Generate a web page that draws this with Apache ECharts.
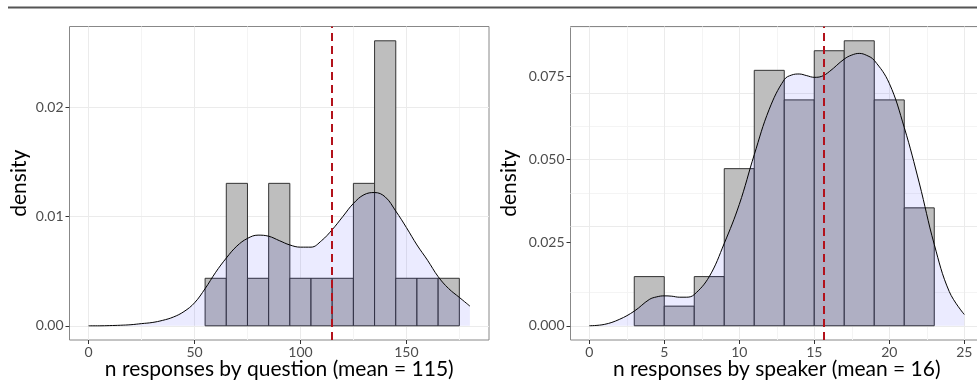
<!DOCTYPE html>
<html>
<head>
<meta charset="utf-8">
<script src="https://cdn.jsdelivr.net/npm/echarts@6/dist/echarts.min.js"></script>
<style>
  html, body { margin: 0; padding: 0; background: #fff; }
  #chart { width: 977px; height: 382px; }
</style>
</head>
<body>
<div id="chart"></div>
<script>
// left panel: responses per question
const qBinStart = [55, 65, 75, 85, 95, 105, 115, 125, 135, 145, 155, 165];
const qBinDensity = [0.00435, 0.01304, 0.00435, 0.01304, 0.00435, 0.00435, 0.00435, 0.01304, 0.02609, 0.00435, 0.00435, 0.00435];
const qDensX = [0, 5, 10, 15, 20, 25, 30, 35, 40, 45, 50, 55, 60, 65, 70, 75, 80, 85, 90, 95, 100, 105, 110, 115, 120, 125, 130, 135, 140, 145, 150, 155, 160, 165, 170, 175, 180];
const qDensY = [0, 0, 0.00002, 0.00005, 0.0001, 0.0002, 0.0003, 0.0005, 0.0008, 0.0013, 0.0021, 0.0034, 0.0049, 0.0062, 0.0073, 0.0080, 0.0083, 0.0082, 0.0078, 0.0074, 0.0072, 0.0072, 0.0078, 0.0088, 0.0100, 0.0112, 0.0120, 0.0122, 0.0118, 0.0105, 0.0090, 0.0074, 0.0060, 0.0045, 0.0034, 0.0026, 0.0018];
const qMean = 115;
const qXTicks = [0, 50, 100, 150];
const qXMinor = [25, 75, 125, 175];
const qYTicks = [0, 0.01, 0.02];
const qYMinor = [0.005, 0.015, 0.025];

// right panel: responses per speaker
const sBinStart = [3, 5, 7, 9, 11, 13, 15, 17, 19, 21];
const sBinDensity = [0.0148, 0.0059, 0.0148, 0.0473, 0.0769, 0.0680, 0.0828, 0.0858, 0.0680, 0.0355];
const sDensX = [0, 1, 2, 3, 4, 4.5, 5, 5.5, 6, 6.5, 7, 8, 9, 10, 11, 12, 13, 13.5, 14, 14.5, 15, 15.5, 16, 17, 17.5, 18, 18.5, 19, 20, 21, 22, 23, 24, 25];
const sDensY = [0, 0.0004, 0.0019, 0.0044, 0.0079, 0.0087, 0.0090, 0.0089, 0.0086, 0.0086, 0.0094, 0.0148, 0.0248, 0.0365, 0.0515, 0.0652, 0.0741, 0.0755, 0.0758, 0.0753, 0.0748, 0.0751, 0.0765, 0.0803, 0.0815, 0.0820, 0.0814, 0.0799, 0.0730, 0.0597, 0.0430, 0.0245, 0.0103, 0.0034];
const sMean = 15.64;
const sXTicks = [0, 5, 10, 15, 20, 25];
const sXMinor = [2.5, 7.5, 12.5, 17.5, 22.5];
const sYTicks = [0, 0.025, 0.05, 0.075];
const sYMinor = [0.0125, 0.0375, 0.0625, 0.0875];

const FONT = 'Lato';

function histItem(binW) {
  return function (params, api) {
    const x0 = api.value(0), h = api.value(1);
    const p0 = api.coord([x0, 0]);
    const p1 = api.coord([x0 + binW, h]);
    return {
      type: 'rect',
      shape: { x: p0[0], y: p1[1], width: p1[0] - p0[0], height: p0[1] - p1[1] },
      style: { fill: '#bebebe', stroke: '#333', lineWidth: 1 }
    };
  };
}

// panel grid lines (major + minor), kept under the bars
function gridLines(idx, xMajor, xMinor, yMajor, yMinor) {
  const major = { color: '#ebebeb', width: 1, type: 'solid' };
  const minor = { color: '#f4f4f4', width: 1, type: 'solid' };
  const lines = [];
  xMinor.forEach(v => lines.push({ xAxis: v, lineStyle: minor }));
  yMinor.forEach(v => lines.push({ yAxis: v, lineStyle: minor }));
  xMajor.forEach(v => lines.push({ xAxis: v, lineStyle: major }));
  yMajor.forEach(v => lines.push({ yAxis: v, lineStyle: major }));
  return {
    type: 'line', xAxisIndex: idx, yAxisIndex: idx, data: [], z: 0, silent: true,
    markLine: { symbol: 'none', silent: true, z: 0, label: { show: false }, animation: false, data: lines }
  };
}

function xAxisCfg(idx, min, max, ticks, name) {
  return {
    type: 'value', gridIndex: idx, min: min, max: max,
    splitLine: { show: false },
    axisLine: { show: false, onZero: false },
    axisTick: { show: true, customValues: ticks, length: 4, lineStyle: { color: '#333' } },
    axisLabel: { customValues: ticks, margin: 5, color: '#4d4d4d', fontSize: 14, fontFamily: FONT },
    name: name, nameLocation: 'middle', nameGap: 19, nameMoveOverlap: false,
    nameTextStyle: { color: '#000', fontSize: 21, fontFamily: FONT }
  };
}

function yAxisCfg(idx, min, max, ticks, digits, gap) {
  return {
    type: 'value', gridIndex: idx, min: min, max: max,
    splitLine: { show: false },
    axisLine: { show: false, onZero: false },
    axisTick: { show: true, customValues: ticks, length: 4, lineStyle: { color: '#333' } },
    axisLabel: { customValues: ticks, margin: 6, color: '#4d4d4d', fontSize: 14, fontFamily: FONT,
      formatter: v => v.toFixed(digits) },
    name: 'density', nameLocation: 'middle', nameGap: gap,
    nameTextStyle: { color: '#000', fontSize: 21, fontFamily: FONT }
  };
}

function meanLine(idx, mean) {
  return {
    type: 'line', xAxisIndex: idx, yAxisIndex: idx, data: [], z: 5, silent: true,
    markLine: {
      symbol: 'none', silent: true, z: 5, label: { show: false }, animation: false,
      lineStyle: { color: '#b3121b', width: 2, type: [8, 5] },
      data: [{ xAxis: mean }]
    }
  };
}

const chart = echarts.init(document.getElementById('chart'), null, { renderer: 'canvas' });
chart.setOption({
  animation: false,
  graphic: [{
    type: 'line', shape: { x1: 8, y1: 7.5, x2: 977, y2: 7.5 },
    style: { stroke: '#555', lineWidth: 2 }
  }],
  grid: [
    { left: 69.5, top: 26.5, width: 419.5, height: 313.5, outerBoundsMode: 'none', show: true, borderColor: '#888', borderWidth: 1, backgroundColor: '#fff' },
    { left: 570.5, top: 26.5, width: 412.5, height: 313.5, outerBoundsMode: 'none', show: true, borderColor: '#888', borderWidth: 1, backgroundColor: '#fff' }
  ],
  xAxis: [
    xAxisCfg(0, -9, 189, qXTicks, 'n responses by question (mean = 115)'),
    xAxisCfg(1, -1.25, 26.25, sXTicks, 'n responses by speaker (mean = 16)')
  ],
  yAxis: [
    yAxisCfg(0, -0.0013, 0.0274, qYTicks, 2, 40),
    yAxisCfg(1, -0.00429, 0.0901, sYTicks, 3, 51)
  ],
  series: [
    gridLines(0, qXTicks, qXMinor, qYTicks, qYMinor),
    gridLines(1, sXTicks, sXMinor, sYTicks, sYMinor),
    {
      type: 'custom', xAxisIndex: 0, yAxisIndex: 0, z: 2,
      renderItem: histItem(10),
      data: qBinStart.map((x, i) => [x, qBinDensity[i]])
    },
    {
      type: 'custom', xAxisIndex: 1, yAxisIndex: 1, z: 2,
      renderItem: histItem(2),
      data: sBinStart.map((x, i) => [x, sBinDensity[i]])
    },
    {
      type: 'line', xAxisIndex: 0, yAxisIndex: 0, z: 3, smooth: 0.4, showSymbol: false,
      lineStyle: { color: '#000', width: 1 },
      areaStyle: { color: 'rgba(0,0,255,0.11)' },
      data: qDensX.map((x, i) => [x, qDensY[i]])
    },
    {
      type: 'line', xAxisIndex: 1, yAxisIndex: 1, z: 3, smooth: 0.4, showSymbol: false,
      lineStyle: { color: '#000', width: 1 },
      areaStyle: { color: 'rgba(0,0,255,0.11)' },
      data: sDensX.map((x, i) => [x, sDensY[i]])
    },
    meanLine(0, qMean),
    meanLine(1, sMean)
  ]
});
</script>
</body>
</html>
